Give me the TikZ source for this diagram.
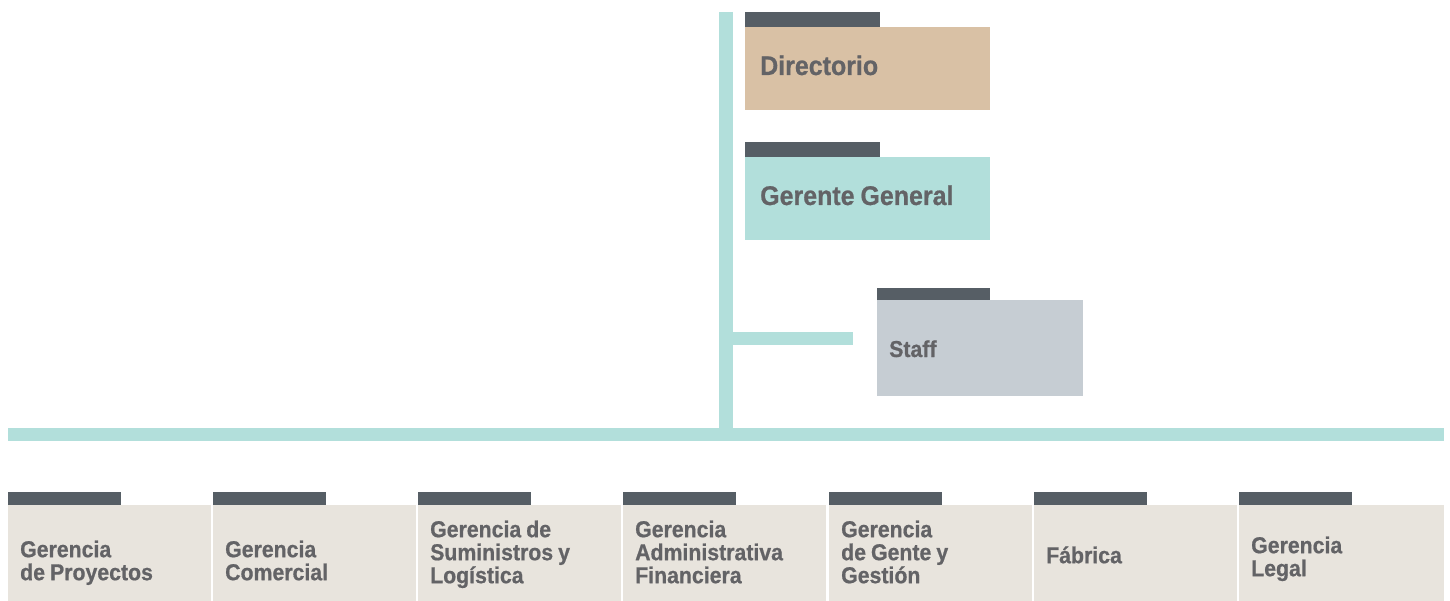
\documentclass[tikz,border=0pt]{standalone}
\usepackage{fontspec}
\setmainfont[FakeStretch=0.925,FakeBold=0.7,WordSpace=0.85]{Liberation Sans}
\definecolor{tealc}{HTML}{B2DFDB}
\definecolor{tabc}{HTML}{565E65}
\definecolor{tanc}{HTML}{D9C1A5}
\definecolor{staffc}{HTML}{C6CDD3}
\definecolor{creamc}{HTML}{E8E4DD}
\definecolor{textc}{HTML}{636366}
\begin{document}
\begin{tikzpicture}[x=1pt,y=-1pt,
  tabbox/.style={fill=tabc, draw=none, inner sep=0pt, anchor=south west},
  panel/.style={draw=none, inner sep=0pt, anchor=north west},
  bigtext/.style={anchor=base west, inner sep=0pt, text=textc, font=\bfseries\fontsize{27}{27}\selectfont},
  smalltext/.style={anchor=base west, inner sep=0pt, text=textc, font=\bfseries\fontsize{23}{23}\selectfont},
  utext/.style={anchor=north west, align=left, inner sep=0pt, text=textc, font=\bfseries\fontsize{23}{23}\selectfont},
  unitbox/.style={panel, fill=creamc, minimum width=203pt, minimum height=96pt},
  bar/.style={draw=tealc}
]
\useasboundingbox (0,0) rectangle (1450,601);
\newcommand{\firstln}{\rule{0pt}{22pt}}

% connectors
\coordinate (trunktop) at (726,12);
\coordinate (trunkbot) at (726,441);
\coordinate (busL) at (8,434.5);
\coordinate (busR) at (1444,434.5);
\coordinate (stL) at (733,338.5);
\coordinate (stR) at (853,338.5);
\draw[bar, line width=13pt] (busL) -- (busR);
\draw[bar, line width=14pt] (trunktop) -- (trunkbot);
\draw[bar, line width=13pt] (stL) -- (stR);

% top boxes
\node[panel, fill=tanc, minimum width=245pt, minimum height=83pt] (dir) at (745,27) {};
\node[tabbox, minimum width=135pt, minimum height=15pt] (dirtab) at (dir.north west) {};
\node[bigtext] (dirt) at (760,75) {Directorio};
\node[panel, fill=tealc, minimum width=245pt, minimum height=83pt] (gg) at (745,157) {};
\node[tabbox, minimum width=135pt, minimum height=15pt] (ggtab) at (gg.north west) {};
\node[bigtext] (ggt) at (760,205) {Gerente General};

% staff
\node[panel, fill=staffc, minimum width=206pt, minimum height=96pt] (staff) at (877,300) {};
\node[tabbox, minimum width=113pt, minimum height=12pt] (stafftab) at (staff.north west) {};
\node[smalltext] (stafft) at (889,357) {Staff};

% bottom units
\node[unitbox] (b1) at (8,505) {};
\node[unitbox] (b2) at (213,505) {};
\node[unitbox] (b3) at (418,505) {};
\node[unitbox] (b4) at (623,505) {};
\node[unitbox] (b5) at (829,505) {};
\node[unitbox] (b6) at (1034,505) {};
\node[unitbox, minimum width=205pt] (b7) at (1239,505) {};
\foreach \b in {b1,b2,b3,b4,b5,b6,b7}{
  \node[tabbox, minimum width=113pt, minimum height=13pt] (\b tab) at (\b.north west) {};
}
\node[utext] (b1t) at (20,535) {\firstln Gerencia\\de Proyectos};
\node[utext] (b2t) at (225,535) {\firstln Gerencia\\Comercial};
\node[utext] (b3t) at (430,515) {\firstln Gerencia de\\Suministros y\\Log\'istica};
\node[utext] (b4t) at (635,515) {\firstln Gerencia\\Administrativa\\Financiera};
\node[utext] (b5t) at (841,515) {\firstln Gerencia\\de Gente y\\Gesti\'on};
\node[utext] (b6t) at (1046,541) {\firstln F\'abrica};
\node[utext] (b7t) at (1251,531) {\firstln Gerencia\\Legal};
\end{tikzpicture}
\end{document}
